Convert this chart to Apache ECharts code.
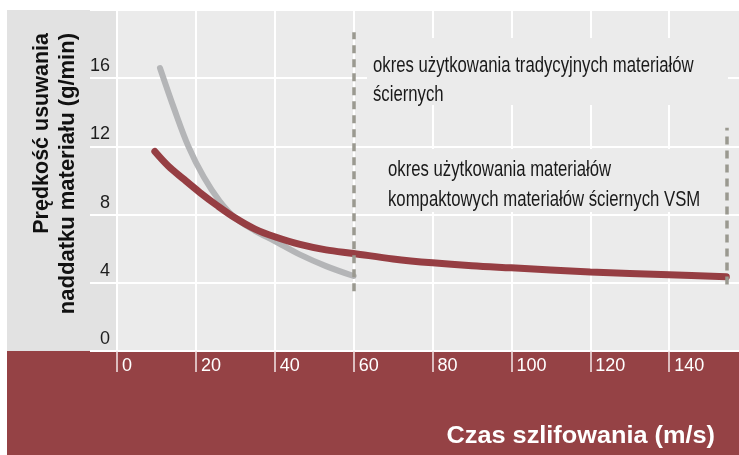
<!DOCTYPE html>
<html>
<head>
<meta charset="utf-8">
<script src="https://cdn.jsdelivr.net/npm/echarts@6/dist/echarts.min.js"></script>
<style>
html,body{margin:0;padding:0;background:#fff;}
#chart{width:739px;height:455px;}
</style>
</head>
<body>
<div id="chart"></div>
<script>
// ---- data ----
const xTickValues = [0, 20, 40, 60, 80, 100, 120, 140];
const yTickValues = [0, 4, 8, 12, 16];
const traditionalX = [10.9, 14.5, 18.1, 22, 26, 30, 35, 40, 46.4, 53, 60];
const traditionalY = [16.6, 14.2, 12.0, 10.2, 8.8, 7.8, 7.05, 6.45, 5.65, 4.98, 4.4];
const vsmX = [9.6, 13, 16.8, 21, 25.3, 30, 35, 40, 46.4, 53, 60, 70, 80, 90, 100, 120, 140, 154.5];
const vsmY = [11.7, 10.85, 10.1, 9.3, 8.55, 7.8, 7.15, 6.7, 6.25, 5.93, 5.72, 5.4, 5.17, 5.0, 4.88, 4.64, 4.47, 4.35];
const dividerX = [60, 154.6];
const dividerLow = [3.5, 3.9];
const dividerHigh = [18.7, 13.1];
const yTitleLines = ['Prędkość usuwania', 'naddatku materiału (g/min)'];
const xTitle = 'Czas szlifowania (m/s)';
const noteTraditional = ['okres użytkowania tradycyjnych materiałów', 'ściernych'];
const noteVSM = ['okres użytkowania materiałów', 'kompaktowych materiałów ściernych VSM'];

const chart = echarts.init(document.getElementById('chart'), null, {renderer: 'canvas'});

const pairs = (xs, ys) => xs.map((x, i) => [x, ys[i]]);
const dividers = dividerX.map((x, i) => [{coord: [x, dividerLow[i]]}, {coord: [x, dividerHigh[i]]}]);

const condensed = 'Liberation Sans, Arial, sans-serif';
const option = {
  animation: false,
  backgroundColor: '#ffffff',
  grid: {
    left: 117, width: 631, top: 10, height: 341,
    outerBoundsMode: 'none', containLabel: false,
    show: true, backgroundColor: '#ebebeb', borderWidth: 0
  },
  xAxis: {
    type: 'value', min: 0, max: 160, interval: 20,
    axisLine: {show: false},
    axisTick: {show: true, length: 21, lineStyle: {color: '#f3e6e6', width: 1.5}},
    axisLabel: {
      color: '#ffffff', fontSize: 18, fontFamily: 'Liberation Sans, Arial, sans-serif',
      align: 'left', verticalAlign: 'top', margin: 6, padding: [0, 0, 0, 5],
      showMaxLabel: false,
      formatter: v => xTickValues.includes(v) ? String(v) : ''
    },
    splitLine: {show: true, lineStyle: {color: '#ffffff', width: 2}}
  },
  yAxis: {
    type: 'value', min: 0, max: 20, interval: 4,
    axisLine: {show: false},
    axisTick: {show: true, length: 27, lineStyle: {color: '#ffffff', width: 2}},
    axisLabel: {
      color: '#1e1e1e', fontSize: 18, fontFamily: 'Liberation Sans, Arial, sans-serif',
      margin: 7, verticalAlign: 'bottom', lineHeight: 18, padding: [0, 0, 3, 0],
      formatter: v => yTickValues.includes(v) ? String(v) : ''
    },
    splitLine: {show: true, lineStyle: {color: '#ffffff', width: 2}}
  },
  series: [
    {
      name: 'tradycyjne', type: 'line', data: pairs(traditionalX, traditionalY),
      smooth: 0.35, showSymbol: false, symbol: 'none',
      lineStyle: {color: '#b4b5b7', width: 6, cap: 'round'},
      z: 3
    },
    {
      name: 'VSM', type: 'line', data: pairs(vsmX, vsmY),
      smooth: 0.35, showSymbol: false, symbol: 'none',
      lineStyle: {color: '#963e43', width: 7, cap: 'round'},
      z: 4,
      markLine: {
        silent: true, symbol: 'none', label: {show: false},
        lineStyle: {color: '#9a9990', width: 3.5, type: [8, 6]},
        data: dividers
      }
    }
  ],
  graphic: [
    {type: 'rect', z: -1, shape: {x: 7, y: 10, width: 110, height: 341}, style: {fill: '#e2e2e2'}},
    {type: 'rect', z: -1, shape: {x: 7, y: 351, width: 732, height: 104}, style: {fill: '#954245'}},
    {type: 'rect', z: 5, shape: {x: 367, y: 38, width: 361, height: 67}, style: {fill: '#ebebeb'}},
    {type: 'rect', z: 5, shape: {x: 381, y: 149, width: 324, height: 63}, style: {fill: '#ebebeb'}},
    {type: 'text', z: 6, x: 373, y: 52, scaleX: 0.76,
      style: {text: noteTraditional.join('\n'), font: '22px ' + condensed, fill: '#1a1a1a',
        textAlign: 'left', textVerticalAlign: 'top', lineHeight: 28.4}},
    {type: 'text', z: 6, x: 388, y: 155, scaleX: 0.76,
      style: {text: noteVSM.join('\n'), font: '22px ' + condensed, fill: '#1a1a1a',
        textAlign: 'left', textVerticalAlign: 'top', lineHeight: 30}},
    {type: 'text', z: 6, x: 42, y: 33, rotation: Math.PI / 2,
      style: {text: yTitleLines[0], font: 'bold 21.5px Liberation Sans, Arial, sans-serif', fill: '#111111',
        textAlign: 'right', textVerticalAlign: 'middle'}},
    {type: 'text', z: 6, x: 68, y: 33, rotation: Math.PI / 2,
      style: {text: yTitleLines[1], font: 'bold 22px Liberation Sans, Arial, sans-serif', fill: '#111111',
        textAlign: 'right', textVerticalAlign: 'middle'}},
    {type: 'text', z: 6, x: 715, y: 437, scaleX: 1.1,
      style: {text: xTitle, font: 'bold 23px Liberation Sans, Arial, sans-serif', fill: '#ffffff',
        textAlign: 'right', textVerticalAlign: 'middle'}}
  ]
};
chart.setOption(option);
</script>
</body>
</html>
